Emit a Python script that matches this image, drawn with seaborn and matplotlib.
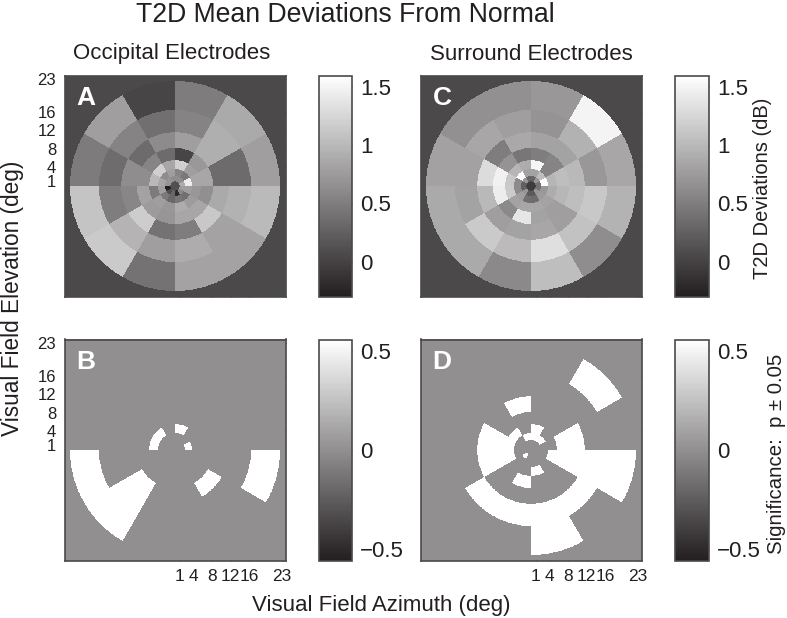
import numpy as np
import matplotlib
matplotlib.use("Agg")
import matplotlib.pyplot as plt
import seaborn as sns

# ring edges (deg) and tick positions
ring_edges = [1.0, 2.15, 3.65, 5.6, 8.2, 11.6, 16.35, 22.6]
tick_deg = [1, 4, 8, 12, 16, 23]
tick_labels = ["1", "4", "8", "12", "16", "23"]

# mean deviations, one row per ring (inner to outer), 12 sectors from 0 deg going counterclockwise
occipital_center = 0.12
occipital_means = [
    [0.90, 0.63, 0.63, 0.63, 0.70, 0.70, -0.30, 0.10, 0.30, -0.20, 0.60, 0.78],
    [1.45, 0.45, 0.56, 0.78, 0.63, 0.85, 0.78, 0.46, 0.32, 0.44, 0.38, 0.78],
    [0.85, 0.78, 1.20, 0.85, 1.20, 1.00, 0.48, 0.78, 0.72, 0.90, 0.75, 0.72],
    [0.85, 0.72, 0.02, 0.35, 0.56, 0.63, 0.82, 0.75, 0.70, 0.85, 0.85, 0.65],
    [0.35, 0.92, 0.78, 0.62, 0.35, 0.63, 0.57, 1.17, 0.41, 0.50, 1.13, 0.88],
    [0.35, 0.92, 0.55, 0.38, 0.55, 0.36, 0.50, 0.96, 0.78, 0.90, 0.81, 0.94],
    [0.78, 0.88, 0.49, 0.02, 0.78, 0.48, 1.10, 1.15, 0.41, 0.81, 0.81, 1.01],
]
surround_center = -0.05
surround_means = [
    [0.40, 0.70, 0.30, 0.30, 0.70, 0.25, 0.25, 0.70, 0.20, 0.20, 0.70, 0.40],
    [1.58, 1.05, 0.82, 0.82, 1.60, 0.62, 0.62, 0.78, 0.38, 0.36, 0.75, 0.72],
    [0.98, 0.55, 1.52, 0.90, 0.98, 1.13, 1.16, 0.82, 0.85, 0.85, 0.82, 0.90],
    [1.05, 0.56, 0.50, 0.44, 0.68, 1.48, 1.45, 0.60, 1.38, 0.82, 0.78, 0.99],
    [1.00, 0.82, 0.82, 0.86, 0.50, 1.30, 1.00, 0.78, 0.82, 0.85, 0.78, 1.05],
    [0.72, 0.94, 0.68, 0.78, 0.85, 0.80, 0.82, 1.15, 1.02, 1.33, 1.08, 1.13],
    [0.85, 1.50, 0.72, 0.66, 0.66, 0.80, 0.88, 0.88, 0.60, 1.05, 0.63, 0.95],
]
means_background = 0.06

# significant sectors per ring
occipital_sig = [[], [0], [2, 4, 5], [], [7, 10], [7], [6, 7, 11]]
surround_sig = [
    [7],
    [1, 2, 3],
    [2, 4, 5, 6, 9, 11],
    [0, 5, 6, 8, 11],
    [0, 3, 5, 6, 11],
    [7, 8, 9, 10, 11],
    [1, 9, 11],
]
sig_value = 0.56

top_ticks = [0, 0.5, 1, 1.5]
top_tick_labels = ["0", "0.5", "1", "1.5"]
bottom_ticks = [-0.5, 0, 0.5]
bottom_tick_labels = ["\u22120.5", "0", "0.5"]

sns.set_style("white")
plt.rcParams["font.family"] = ["Liberation Sans", "DejaVu Sans"]

W, H = 787, 618
dark = "#231f20"
frame = "#4a4a4a"
gray_map = sns.blend_palette([dark, "#ffffff"], n_colors=256, as_cmap=True)
lim = 23.8
n = 600

# cartesian lookup of each polar cell
grid = (np.arange(n) + 0.5) / n * 2 * lim - lim
xx, yy = np.meshgrid(grid, -grid)
rr = np.hypot(xx, yy)
sector = (np.degrees(np.arctan2(yy, xx)) % 360 // 30).astype(int) % 12
ring = np.digitize(rr, ring_edges) - 1


def polar_image(values, center, background):
    values = np.asarray(values)
    img = np.full(rr.shape, float(background))
    inside = (ring >= 0) & (ring < len(values))
    img[inside] = values[ring[inside], sector[inside]]
    img[rr < ring_edges[0]] = center
    return img


def sig_matrix(sig):
    m = np.zeros((len(sig), 12))
    for i, sectors in enumerate(sig):
        m[i, sectors] = sig_value
    return m


def px_axes(x0, y0, x1, y1):
    return fig.add_axes([x0 / W, 1 - y1 / H, (x1 - x0) / W, (y1 - y0) / H])


def draw_panel(img, box, cbar_box, vmin, vmax, ticks, labels, letter, show_x, show_y):
    ax = px_axes(*box)
    cax = px_axes(*cbar_box)
    sns.heatmap(img, ax=ax, cbar_ax=cax, cmap=gray_map, vmin=vmin, vmax=vmax,
                xticklabels=False, yticklabels=False, square=False)
    for s in ax.spines.values():
        s.set_visible(True)
        s.set_color(frame)
        s.set_linewidth(1.2)
    pos = [(d + lim) / (2 * lim) * n for d in tick_deg]
    neg = [(lim - d) / (2 * lim) * n for d in tick_deg]
    ax.set_xticks(pos)
    ax.set_yticks(neg)
    ax.set_xticklabels(tick_labels if show_x else [], fontsize=12.5, color=dark)
    ax.set_yticklabels(tick_labels if show_y else [], fontsize=12, color=dark, rotation=0)
    ax.tick_params(axis="both", direction="in", length=2.5, width=0.8, color=frame,
                   top=True, right=True, bottom=True, left=True, pad=6)
    ax.text(0.055, 0.898, letter, transform=ax.transAxes, color="white", fontsize=19,
            fontweight="bold", ha="left", va="center")

    cb = ax.collections[0].colorbar
    cb.outline.set_visible(True)
    cb.outline.set_edgecolor(frame)
    cb.outline.set_linewidth(1.2)
    cb.set_ticks(ticks)
    cb.set_ticklabels(labels)
    cax.tick_params(axis="y", direction="in", length=2, width=0.8, color=frame, left=True,
                    right=True, labelright=True, labelleft=False, labelsize=16,
                    labelcolor=dark, pad=6)


fig = plt.figure(figsize=(W / 100, H / 100), dpi=100, facecolor="white")

left_box = (64.5, 285.5)
right_box = (420.5, 641.5)
top_y = (75.5, 296.5)
bottom_y = (339.5, 560.5)
cb_left = (318.5, 352)
cb_right = (675, 708.5)

draw_panel(polar_image(occipital_means, occipital_center, means_background),
           (left_box[0], top_y[0], left_box[1], top_y[1]),
           (cb_left[0], top_y[0], cb_left[1], top_y[1]),
           -0.3, 1.6, top_ticks, top_tick_labels, "A", False, True)
draw_panel(polar_image(surround_means, surround_center, means_background),
           (right_box[0], top_y[0], right_box[1], top_y[1]),
           (cb_right[0], top_y[0], cb_right[1], top_y[1]),
           -0.3, 1.6, top_ticks, top_tick_labels, "C", False, False)
draw_panel(polar_image(sig_matrix(occipital_sig), 0, 0),
           (left_box[0], bottom_y[0], left_box[1], bottom_y[1]),
           (cb_left[0], bottom_y[0], cb_left[1], bottom_y[1]),
           -0.556, 0.556, bottom_ticks, bottom_tick_labels, "B", True, True)
draw_panel(polar_image(sig_matrix(surround_sig), 0, 0),
           (right_box[0], bottom_y[0], right_box[1], bottom_y[1]),
           (cb_right[0], bottom_y[0], cb_right[1], bottom_y[1]),
           -0.556, 0.556, bottom_ticks, bottom_tick_labels, "D", True, False)


def label(x, y, s, size, **kw):
    fig.text(x / W, 1 - y / H, s, fontsize=size, color=dark, ha="center", va="center", **kw)


label(345, 15, "T2D Mean Deviations From Normal", 19.2)
label(172, 54, "Occipital Electrodes", 16)
label(531, 54, "Surround Electrodes", 16)
label(381, 606, "Visual Field Azimuth (deg)", 16)
label(13, 298, "Visual Field Elevation (deg)", 16.3, rotation=90)
label(762, 188, "T2D Deviations (dB)", 14.5, rotation=90)
label(776, 454, "Significance:  p \u00b1 0.05", 14.7, rotation=90)

fig.savefig("out.png", dpi=100)
